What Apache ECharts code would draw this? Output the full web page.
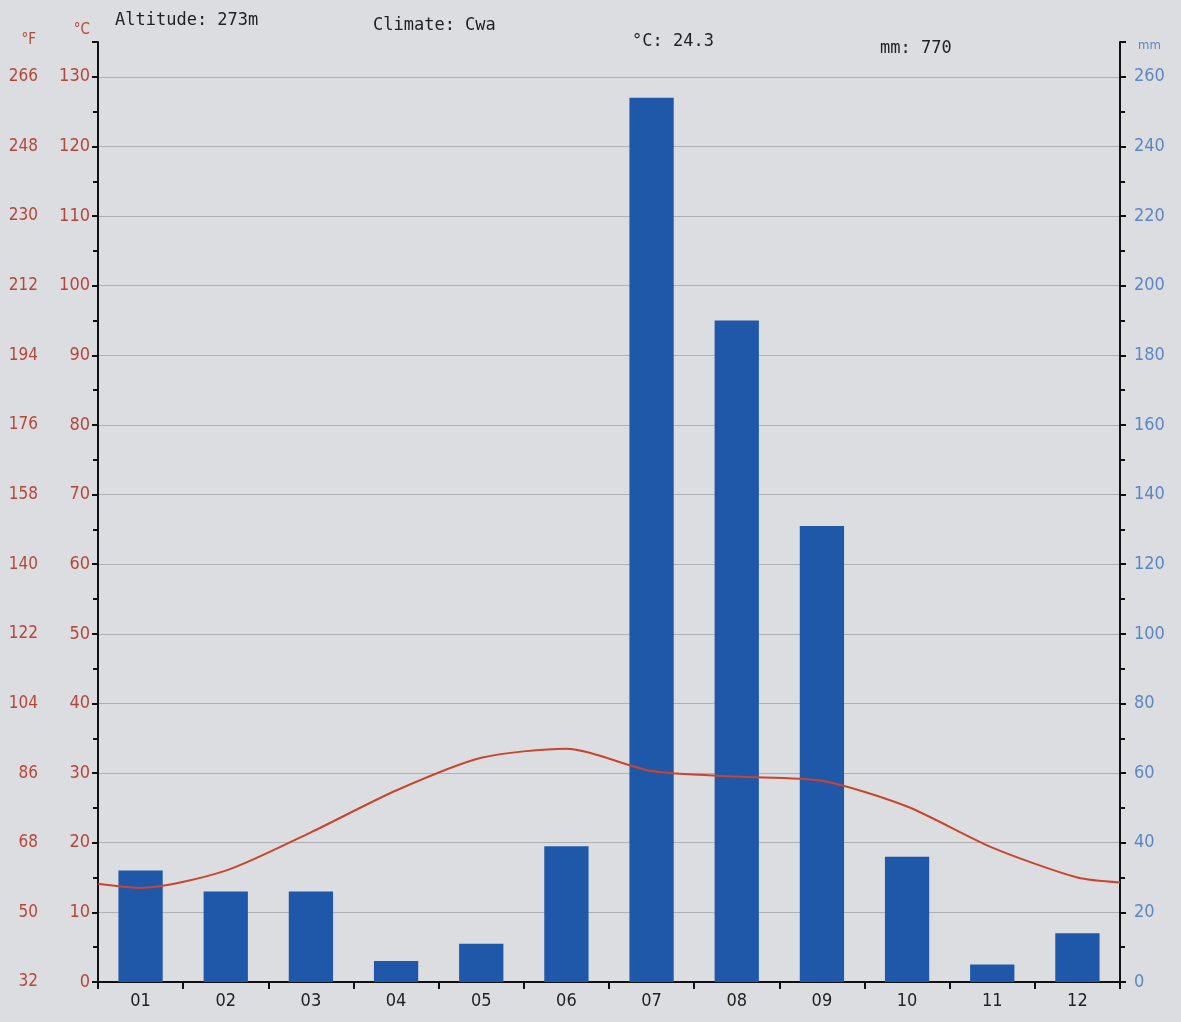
<!DOCTYPE html>
<html><head><meta charset="utf-8">
<script src="https://cdn.jsdelivr.net/npm/echarts@6/dist/echarts.min.js"></script>
<style>html,body{margin:0;padding:0;background:#dcdde1;}#c{width:1181px;height:1022px;}</style>
</head><body><div id="c"></div>
<script>
const months = ['01','02','03','04','05','06','07','08','09','10','11','12'];
const precipMm = [32, 26, 26, 6, 11, 39, 254, 190, 131, 36, 5, 14];
const tempC = [13.5, 16, 21.5, 27.5, 32.2, 33.5, 30.3, 29.5, 28.9, 25.2, 19.3, 15];
// temperature curve as drawn where it meets the left and right axes
const tempEdgeStart = 14.1;
const tempEdgeEnd = 14.3;
const headerTexts = ['Altitude: 273m', 'Climate: Cwa', '°C: 24.3', 'mm: 770'];

const lab = "'DejaVu Sans Condensed','DejaVu Sans',sans-serif";
const mono = "'DejaVu Sans Mono',monospace";
const red = '#b5473a', blue = '#5b87c2';

// line points: axis edge, month centres, axis edge (positions on a 0..12 month scale)
const linePts = [[0, tempEdgeStart]]
  .concat(tempC.map((v, i) => [i + 0.5, v]))
  .concat([[months.length, tempEdgeEnd]]);

const chart = echarts.init(document.getElementById('c'));
chart.setOption({
  backgroundColor: '#dcdde1',
  animation: false,
  graphic: [
    {type:'text', left:115, top:12, style:{text:headerTexts[0], font:"17px "+mono, fill:'#222'}},
    {type:'text', left:373, top:17, style:{text:headerTexts[1], font:"17px "+mono, fill:'#222'}},
    {type:'text', left:632, top:33, style:{text:headerTexts[2], font:"17px "+mono, fill:'#222'}},
    {type:'text', left:880, top:40, style:{text:headerTexts[3], font:"17px "+mono, fill:'#222'}}
  ],
  grid: {left: 98, right: 61, top: 42, bottom: 40},
  xAxis: [{
    type: 'category', data: months, boundaryGap: true,
    axisLine: {lineStyle: {color: '#111', width: 2}},
    axisTick: {show: true, alignWithLabel: false, length: 7, lineStyle: {color: '#111', width: 2}},
    axisLabel: {color: '#222', fontFamily: lab, fontSize: 18, margin: 10}
  }, {
    type: 'value', min: 0, max: months.length, show: false
  }],
  yAxis: [
    {type: 'value', min: 0, max: 135, interval: 10, position: 'left',
     name: '°C', nameLocation: 'end', nameGap: 4, nameTextStyle: {color: red, fontFamily: lab, fontSize: 15, align: 'right', padding: [0, 8, 0, 0]},
     axisLine: {show: true, lineStyle: {color: '#111', width: 2}},
     axisTick: {show: true, inside: false, length: 6, lineStyle: {color: '#111', width: 2}},
     minorTick: {show: true, splitNumber: 2, length: 5, lineStyle: {color: '#111', width: 2}},
     axisLabel: {color: red, fontFamily: lab, fontSize: 18, margin: 8, showMaxLabel: false},
     splitLine: {show: true, showMaxLine: false, lineStyle: {color: '#afb0b4', width: 1.2}}},
    {type: 'value', min: 32, max: 275, interval: 18, position: 'left', offset: 52,
     name: '°F', nameLocation: 'end', nameGap: -6, nameTextStyle: {color: red, fontFamily: lab, fontSize: 15, align: 'right', padding: [0, 10, 0, 0]},
     axisLine: {show: false}, axisTick: {show: false}, splitLine: {show: false},
     axisLabel: {color: red, fontFamily: lab, fontSize: 17, margin: 8, showMaxLabel: false}},
    {type: 'value', min: 0, max: 270, interval: 20, position: 'right',
     name: 'mm', nameLocation: 'end', nameGap: -10, nameTextStyle: {color: blue, fontFamily: lab, fontSize: 13, align: 'left', padding: [0, 0, 0, 18]},
     axisLine: {show: true, lineStyle: {color: '#111', width: 2}},
     axisTick: {show: true, length: 6, lineStyle: {color: '#111', width: 2}},
     minorTick: {show: true, splitNumber: 2, length: 5, lineStyle: {color: '#111', width: 2}},
     axisLabel: {color: blue, fontFamily: lab, fontSize: 18, margin: 14, showMaxLabel: false},
     splitLine: {show: false}}
  ],
  series: [
    {type: 'bar', xAxisIndex: 0, yAxisIndex: 2, data: precipMm, barWidth: '52%',
     itemStyle: {color: '#1f58a8'}},
    {type: 'line', xAxisIndex: 1, yAxisIndex: 0, data: linePts, smooth: 0.25, symbol: 'none',
     lineStyle: {color: '#c8452e', width: 2}, z: 5}
  ]
});
</script></body></html>
